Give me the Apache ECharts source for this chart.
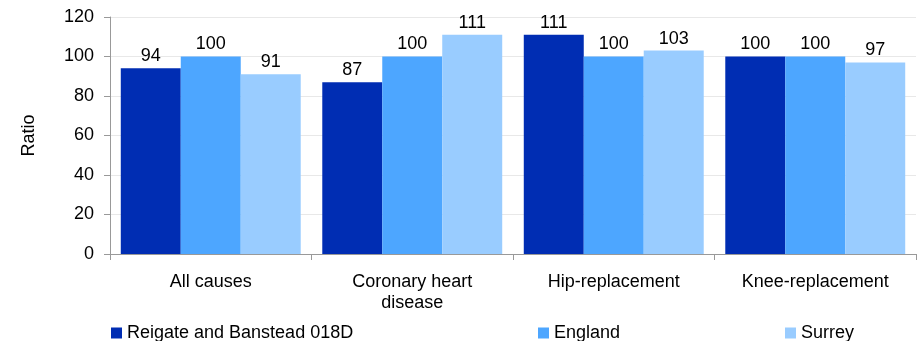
<!DOCTYPE html>
<html><head><meta charset="utf-8">
<script src="https://cdn.jsdelivr.net/npm/echarts@6/dist/echarts.min.js"></script>
<style>html,body{margin:0;padding:0;background:#fff}#c{width:921px;height:341px}</style>
</head><body><div id="c"></div>
<script>
const categories = ['All causes', 'Coronary heart\ndisease', 'Hip-replacement', 'Knee-replacement'];
const seriesNames = ['Reigate and Banstead 018D', 'England', 'Surrey'];
const reigate = [94, 87, 111, 100];
const england = [100, 100, 100, 100];
const surrey = [91, 111, 103, 97];
const yTicks = [0, 20, 40, 60, 80, 100, 120];

const colors = ['#002db3', '#4da6ff', '#99ccff'];
const font = 'Liberation Sans, Arial, sans-serif';
const fs = 18;
const values = [reigate, england, surrey];

const chart = echarts.init(document.getElementById('c'));
chart.setOption({
  animation: false,
  textStyle: { fontFamily: font },
  grid: { left: 110, right: 5, top: 17, bottom: 87 },
  legend: [0,1,2].map((i) => ({
    data: [seriesNames[i]],
    left: [106, 533, 780][i],
    top: 319,
    itemWidth: 11, itemHeight: 11, icon: 'rect',
    itemGap: 8,
    textStyle: { fontFamily: font, fontSize: fs, color: '#000' }
  })),
  xAxis: {
    type: 'category',
    data: categories,
    axisLine: { lineStyle: { color: '#999', width: 1 } },
    axisTick: { show: true, length: 6, lineStyle: { color: '#999' } },
    axisLabel: { fontFamily: font, fontSize: fs, color: '#000', margin: 18, lineHeight: 21 }
  },
  yAxis: {
    type: 'value', min: 0, max: 120, interval: 20,
    name: 'Ratio', nameLocation: 'middle', nameGap: 72, nameRotate: 90,
    nameTextStyle: { fontFamily: font, fontSize: fs, color: '#000' },
    axisLine: { show: true, lineStyle: { color: '#999' } },
    axisTick: { show: true, length: 6, lineStyle: { color: '#999' } },
    axisLabel: { fontFamily: font, fontSize: fs, color: '#000', margin: 16,
      formatter: (v) => yTicks.includes(v) ? String(v) : '' },
    splitLine: { lineStyle: { color: '#e8e8e8' } }
  },
  series: values.map((d, i) => ({
    name: seriesNames[i],
    type: 'bar',
    data: d,
    barGap: '0%',
    barCategoryGap: '10.7%',
    itemStyle: { color: colors[i] },
    label: { show: true, position: 'top', distance: 3, fontFamily: font, fontSize: fs, color: '#000' }
  }))
});
</script></body></html>
